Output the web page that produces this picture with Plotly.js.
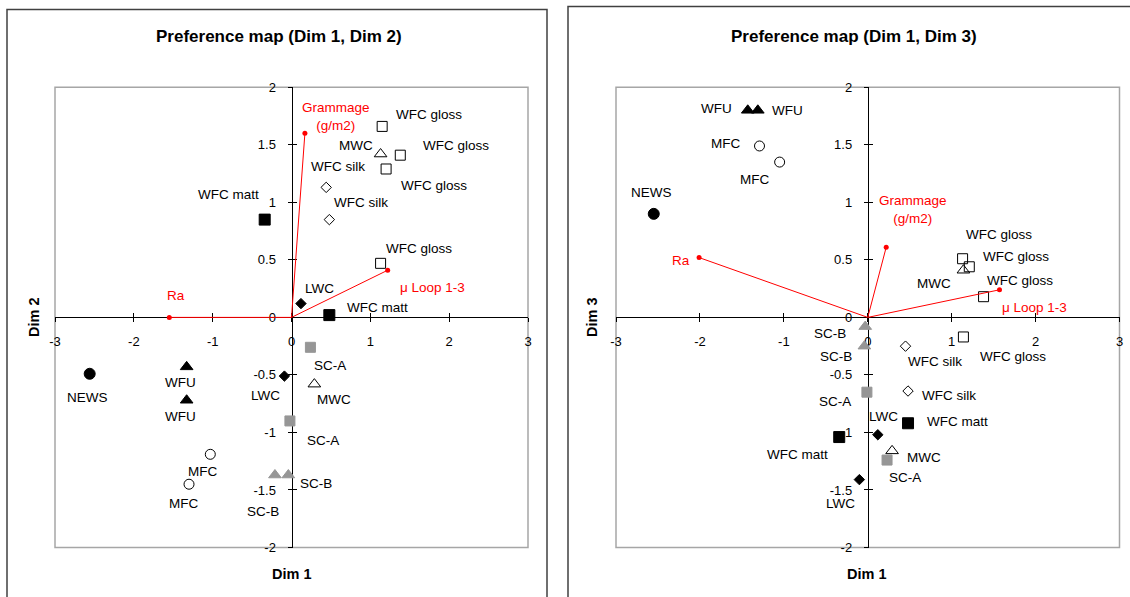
<!DOCTYPE html>
<html><head><meta charset="utf-8">
<script src="https://cdn.plot.ly/plotly-3.0.1.min.js"></script>
<style>html,body{margin:0;padding:0;background:#fff}#chart{width:1130px;height:597px}</style>
</head><body><div id="chart"></div>
<script>
// ---------- DATA ----------
const products = ['NEWS','WFU','WFU','MFC','MFC','SC-A','SC-A','SC-B','SC-B','LWC','LWC','MWC','MWC',
  'WFC matt','WFC matt','WFC silk','WFC silk','WFC gloss','WFC gloss','WFC gloss','WFC gloss'];

// Panel 1: Dim 1 vs Dim 2
const p1_dim1 = [-2.56,-1.33,-1.33,-1.03,-1.30,0.24,-0.02,-0.21,-0.04,0.12,-0.09,1.13,0.29,-0.34,0.48,0.44,0.48,1.15,1.38,1.20,1.13];
const p1_dim2 = [-0.49,-0.43,-0.72,-1.19,-1.45,-0.26,-0.90,-1.37,-1.37,0.12,-0.51,1.42,-0.58,0.85,0.02,1.13,0.85,1.66,1.41,1.29,0.47];

// Panel 2: Dim 1 vs Dim 3
const p2_dim1 = [-2.55,-1.43,-1.31,-1.29,-1.05,-0.01,0.23,-0.03,-0.04,0.12,-0.10,1.14,0.29,0.48,-0.34,0.45,0.48,1.13,1.21,1.38,1.14];
const p2_dim3 = [0.90,1.80,1.80,1.49,1.35,-0.65,-1.24,-0.08,-0.25,-1.02,-1.41,0.41,-1.16,-0.92,-1.04,-0.25,-0.64,0.51,0.44,0.18,-0.17];

// Variables (vectors)
const variables = ['Grammage<br>(g/m2)','Ra','μ Loop 1-3'];
const p1_var_dim1 = [0.17,-1.55,1.22];
const p1_var_dim2 = [1.60,0.00,0.41];
const p2_var_dim1 = [0.22,-2.01,1.57];
const p2_var_dim3 = [0.61,0.52,0.24];

const xTicks = [-3,-2,-1,0,1,2,3];
const yTicks = [-2,-1.5,-1,-0.5,0,0.5,1,1.5,2];

// ---------- STYLES / LABEL OFFSETS (pixels) ----------
const p1_lblShift = [[-2,-24],[-6,-16],[-6,-16],[-8,-17],[-6,-19],[20,-18],[33,-20],[-12,-36],[28,-8],[19,15],[-19,-19],
  [-25,9],[20,-15],[-36,25],[48,8],[12,21],[32,17],[47,12],[56,10],[48,-17],[38,15]];
const p2_lblShift = [[-2,21],[-31,2],[30,0],[-34,2],[-25,-17],[-32,-9],[18,-17],[-35,-7],[-28,-10],[6,18],[-19,-24],
  [-29,-13],[32,-7],[49,2],[-42,-17],[29,-15],[41,-4],[36,24],[47,10],[36,16],[50,-20]];
const p1_varShift = [[31,17],[7,22],[45,-17]];
const p2_varShift = [[27,38],[-18,-3],[35,-18]];

const GRAY = '#969696';
const styles = {
  'NEWS':{symbol:'circle',color:'#000',size:11},
  'WFU':{symbol:'triangle-up',color:'#000',size:11},
  'MFC':{symbol:'circle-open',color:'#000',size:10},
  'SC-A':{symbol:'square',color:GRAY,size:10},
  'SC-B':{symbol:'triangle-up',color:GRAY,size:11},
  'LWC':{symbol:'diamond',color:'#000',size:8},
  'MWC':{symbol:'triangle-up-open',color:'#000',size:11},
  'WFC matt':{symbol:'square',color:'#000',size:11},
  'WFC silk':{symbol:'diamond-open',color:'#000',size:8},
  'WFC gloss':{symbol:'square-open',color:'#000',size:10}
};

const W = 1130, H = 597;
const FONT = 'Liberation Sans, Arial, sans-serif';
const px = v => v / W;
const py = v => 1 - v / H;

const traces = [];
const annotations = [];

function addPanel(xs, ys, lbl, vx, vy, vlbl, xa, ya) {
  const groups = [...new Set(products)];
  groups.forEach(g => {
    const idx = products.map((p,i)=>p===g?i:-1).filter(i=>i>=0);
    const s = styles[g];
    traces.push({
      type:'scatter', mode:'markers', xaxis:xa, yaxis:ya, showlegend:false, hoverinfo:'skip',
      x: idx.map(i=>xs[i]), y: idx.map(i=>ys[i]),
      marker:{symbol:s.symbol, color:s.color, size:s.size, line:{color:s.color, width:1}}
    });
  });
  products.forEach((p,i)=>{
    annotations.push({xref:xa, yref:ya, x:xs[i], y:ys[i], text:p, showarrow:false,
      xanchor:'center', yanchor:'middle',
      xshift:lbl[i][0], yshift:lbl[i][1], font:{family:FONT, size:13.5, color:'#000'}});
  });
  variables.forEach((v,i)=>{
    traces.push({type:'scatter', mode:'lines', xaxis:xa, yaxis:ya, showlegend:false, hoverinfo:'skip',
      x:[0, vx[i]], y:[0, vy[i]], line:{color:'#ff0000', width:1}});
    traces.push({type:'scatter', mode:'markers', xaxis:xa, yaxis:ya, showlegend:false, hoverinfo:'skip',
      x:[vx[i]], y:[vy[i]], marker:{color:'#ff0000', size:5}});
    annotations.push({xref:xa, yref:ya, x:vx[i], y:vy[i], text:v, showarrow:false,
      xanchor:'center', yanchor:'middle',
      xshift:vlbl[i][0], yshift:vlbl[i][1], font:{family:FONT, size:13.5, color:'#ff0000'}});
  });
}

addPanel(p1_dim1, p1_dim2, p1_lblShift, p1_var_dim1, p1_var_dim2, p1_varShift, 'x', 'y');
addPanel(p2_dim1, p2_dim3, p2_lblShift, p2_var_dim1, p2_var_dim3, p2_varShift, 'x2', 'y2');
// empty traces so the tick-overlay axes exist
traces.push({type:'scatter', x:[], y:[], xaxis:'x3', yaxis:'y3', showlegend:false});
traces.push({type:'scatter', x:[], y:[], xaxis:'x4', yaxis:'y4', showlegend:false});

const yDom = [py(547.5), py(87.3)];
const xDomL = [px(55), px(528)];
const xDomR = [px(616), px(1119.5)];
const yMid = (yDom[0]+yDom[1])/2;
const xMidL = (xDomL[0]+xDomL[1])/2;
const xMidR = (xDomR[0]+xDomR[1])/2;

const tickFont = {family:FONT, size:13, color:'#000'};
function xAx(dom, pos, inside, over) {
  const a = {domain:dom, range:[-3,3], anchor:'free', position:pos, showgrid:false, zeroline:false,
    tickmode:'array', tickvals:xTicks, ticktext:xTicks.map(String), tickfont:tickFont,
    ticks: inside?'inside':'outside', ticklen:4, tickcolor:'#000', tickwidth:1,
    showline:!inside, linecolor:'#000', linewidth:1, showticklabels:!inside, ticklabelstandoff:8,
    fixedrange:true, layer:'below traces'};
  if (over) a.overlaying = over;
  return a;
}
function yAx(dom, pos, inside, over) {
  const a = {domain:dom, range:[-2,2], anchor:'free', position:pos, showgrid:false, zeroline:false,
    tickmode:'array', tickvals:yTicks, ticktext:yTicks.map(String), tickfont:tickFont,
    ticks: inside?'inside':'outside', ticklen:4, tickcolor:'#000', tickwidth:1,
    showline:!inside, linecolor:'#000', linewidth:1, showticklabels:!inside, ticklabelstandoff:9,
    fixedrange:true, layer:'below traces'};
  if (over) a.overlaying = over;
  return a;
}

const titleFont = {family:FONT, size:17, color:'#000'};
const axFont = {family:FONT, size:14.5, color:'#000'};
const ctr = {showarrow:false, xanchor:'center', yanchor:'middle', xref:'paper', yref:'paper'};
annotations.push(
  Object.assign({x:px(279), y:py(37), text:'<b>Preference map (Dim 1, Dim 2)</b>', font:titleFont}, ctr),
  Object.assign({x:px(854), y:py(37), text:'<b>Preference map (Dim 1, Dim 3)</b>', font:titleFont}, ctr),
  Object.assign({x:px(292), y:py(574), text:'<b>Dim 1</b>', font:axFont}, ctr),
  Object.assign({x:px(867), y:py(574), text:'<b>Dim 1</b>', font:axFont}, ctr),
  Object.assign({x:px(34), y:py(317), text:'<b>Dim 2</b>', textangle:-90, font:axFont}, ctr),
  Object.assign({x:px(592), y:py(317), text:'<b>Dim 3</b>', textangle:-90, font:axFont}, ctr)
);

const shapes = [
  {type:'rect', xref:'paper', yref:'paper', x0:px(7), x1:px(547), y0:-0.05, y1:py(9.5), line:{color:'#404040', width:1.5}},
  {type:'rect', xref:'paper', yref:'paper', x0:px(568), x1:1.02, y0:-0.05, y1:py(6.5), line:{color:'#404040', width:1.5}},
  {type:'rect', xref:'x domain', yref:'y domain', x0:0, x1:1, y0:0, y1:1, line:{color:'#a6a6a6', width:1.5}, layer:'below'},
  {type:'rect', xref:'x2 domain', yref:'y2 domain', x0:0, x1:1, y0:0, y1:1, line:{color:'#a6a6a6', width:1.5}, layer:'below'}
];

const layout = {
  width:W, height:H, margin:{l:0,r:0,t:0,b:0}, paper_bgcolor:'#fff', plot_bgcolor:'#fff',
  showlegend:false, font:{family:FONT},
  xaxis: xAx(xDomL, yMid, false), yaxis: yAx(yDom, xMidL, false),
  xaxis2: xAx(xDomR, yMid, false), yaxis2: yAx(yDom, xMidR, false),
  xaxis3: xAx(xDomL, yMid, true, 'x'), yaxis3: yAx(yDom, xMidL, true, 'y'),
  xaxis4: xAx(xDomR, yMid, true, 'x2'), yaxis4: yAx(yDom, xMidR, true, 'y2'),
  annotations, shapes
};

Plotly.newPlot('chart', traces, layout, {staticPlot:true, displayModeBar:false});
</script>
</body></html>
